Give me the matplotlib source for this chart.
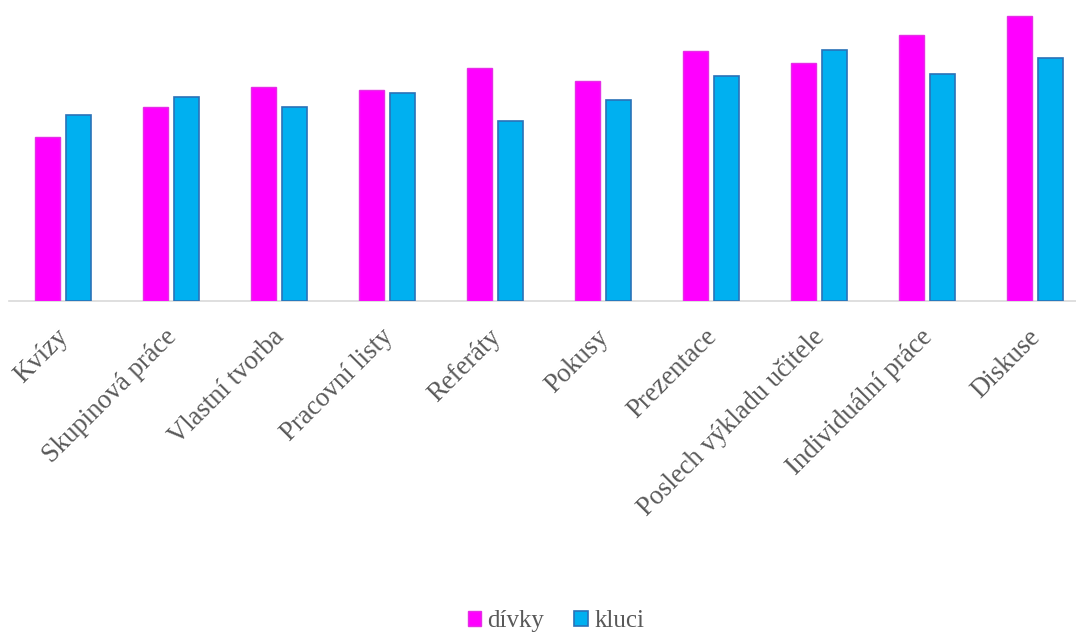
import numpy as np
import matplotlib
matplotlib.use('Agg')
import matplotlib.pyplot as plt
from matplotlib.transforms import ScaledTranslation

categories = ['Kvízy', 'Skupinová práce', 'Vlastní tvorba', 'Pracovní listy', 'Referáty',
              'Pokusy', 'Prezentace', 'Poslech výkladu učitele', 'Individuální práce', 'Diskuse']
divky = [164, 194, 214, 211, 233, 220, 250, 238, 266, 285]
kluci = [186, 204, 194, 208, 180, 201, 225, 251, 227, 243]

plt.rcParams['font.family'] = ['Liberation Serif', 'DejaVu Serif']
TEXT = '#595959'

fig = plt.figure(figsize=(10.76, 6.35), dpi=100)
ax = fig.add_axes([9 / 1076, (635 - 301) / 635, 1080 / 1076, 301 / 635])

x = np.arange(len(categories))
w = 0.232
ax.bar(x - 0.1435, divky, w, color='#FF00FF', edgecolor='#E62EE6', linewidth=1, label='dívky', zorder=3)
ax.bar(x + 0.1435, kluci, w, color='#00B0F0', edgecolor='#2A72B8', linewidth=1.2, label='kluci', zorder=3)

ax.set_xlim(-0.5, len(categories) - 0.5)
ax.set_ylim(0, 301)
for s in ['top', 'right', 'left']:
    ax.spines[s].set_visible(False)
ax.spines['bottom'].set_color('#D9D9D9')
ax.spines['bottom'].set_linewidth(1.2)
ax.set_yticks([])
ax.set_xticks(x)
ax.set_xticklabels(categories, rotation=45, ha='right', va='top', rotation_mode='anchor',
                   fontsize=19.2, color=TEXT)
ax.tick_params(axis='x', length=0, pad=17)
shift = ScaledTranslation(-7 / 100, 0, fig.dpi_scale_trans)
for lab in ax.get_xticklabels():
    lab.set_transform(lab.get_transform() + shift)

fig.legend(loc='center', bbox_to_anchor=(556 / 1076, 1 - 621 / 635), ncol=2, frameon=False,
           fontsize=18, labelcolor=TEXT, handlelength=0.55, handleheight=0.55,
           handletextpad=0.25, columnspacing=1.2)

fig.savefig('out.png', dpi=100)
